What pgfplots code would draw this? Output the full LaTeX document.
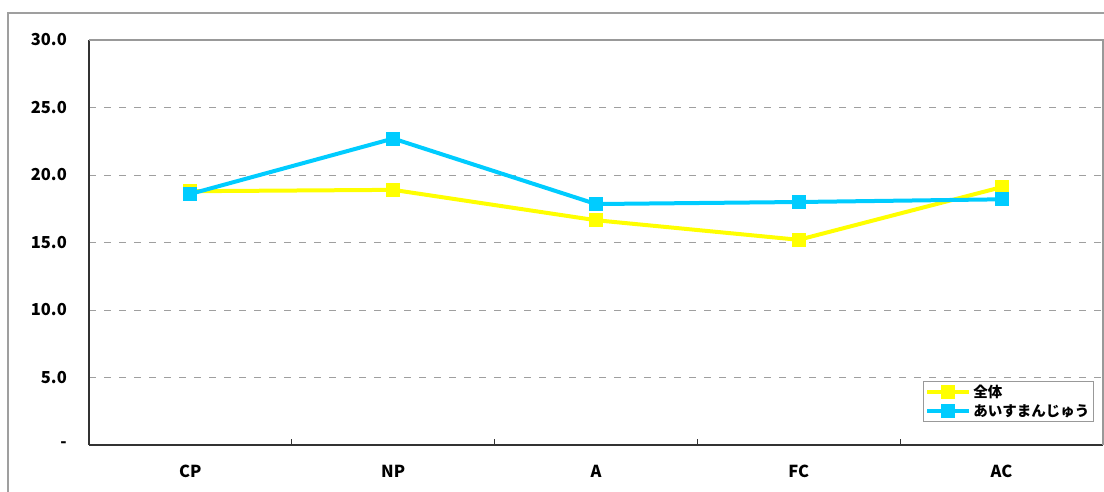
\documentclass[border=0pt]{standalone}
\usepackage{fontspec}
\setmainfont{Noto Sans CJK JP}
\usepackage{pgfplots}
\pgfplotsset{compat=1.18}
\definecolor{cyanline}{RGB}{0,204,255}
\definecolor{yel}{RGB}{255,255,0}
\begin{document}
\begin{tikzpicture}
\useasboundingbox (0pt,0pt) rectangle (1104pt,-491pt);
\draw[gray!75, line width=1.4pt] (8pt,-560pt) -- (8pt,-13pt) -- (1150pt,-13pt);
\begin{axis}[
  at={(89pt,-445pt)}, anchor=south west,
  scale only axis, width=1014pt, height=405pt,
  xmin=0, xmax=5, ymin=0, ymax=30,
  axis x line*=bottom, axis y line*=left,
  axis line style={line width=1.5pt, black!80, -},
  xtick={0.5,1.5,2.5,3.5,4.5},
  xticklabels={CP,NP,A,FC,AC},
  major x tick style={draw=none},
  extra x ticks={1,2,3,4},
  extra x tick labels={},
  extra x tick style={major tick length=6pt, tick align=inside, xmajorgrids=false, major x tick style={draw=black!80, line width=1pt}},
  ytick={0,5,10,15,20,25,30},
  yticklabels={-,5.0,10.0,15.0,20.0,25.0,30.0},
  major y tick style={draw=none},
  ymajorgrids,
  grid style={gray!75, line width=1pt, dash pattern=on 7pt off 8pt},
  yticklabel style={anchor=east, inner sep=0pt, xshift=-22pt, font=\fontsize{16.5}{18}\selectfont\bfseries},
  xticklabel style={anchor=north, inner sep=0pt, yshift=-20pt, font=\fontsize{16.5}{18}\selectfont\bfseries},
  legend style={at={(rel axis cs:0.8225,0.158)}, anchor=north west, draw=gray!80, line width=0.8pt,
    font=\fontsize{14.5}{16}\selectfont\bfseries, inner sep=2pt, row sep=1pt,
    cells={anchor=west}},
  legend image code/.code={\draw[mark repeat=2, mark phase=2, #1] plot coordinates {(0pt,0pt) (21pt,0pt) (42pt,0pt)};},
  clip=false,
]
\draw[gray!80, line width=1.2pt] (rel axis cs:0,1) -- (rel axis cs:1,1) -- (rel axis cs:1,0);
\addplot[yel, line width=4pt, mark=square*, mark size=6.5pt, mark options={solid, line width=0pt}]
  coordinates {(0.5,18.8) (1.5,18.9) (2.5,16.65) (3.5,15.2) (4.5,19.1)};
\addlegendentry{全体}
\addplot[cyanline, line width=4pt, mark=square*, mark size=6.5pt, mark options={solid, line width=0pt}]
  coordinates {(0.5,18.6) (1.5,22.7) (2.5,17.85) (3.5,18.0) (4.5,18.2)};
\addlegendentry{あいすまんじゅう}
\end{axis}
\end{tikzpicture}
\end{document}
